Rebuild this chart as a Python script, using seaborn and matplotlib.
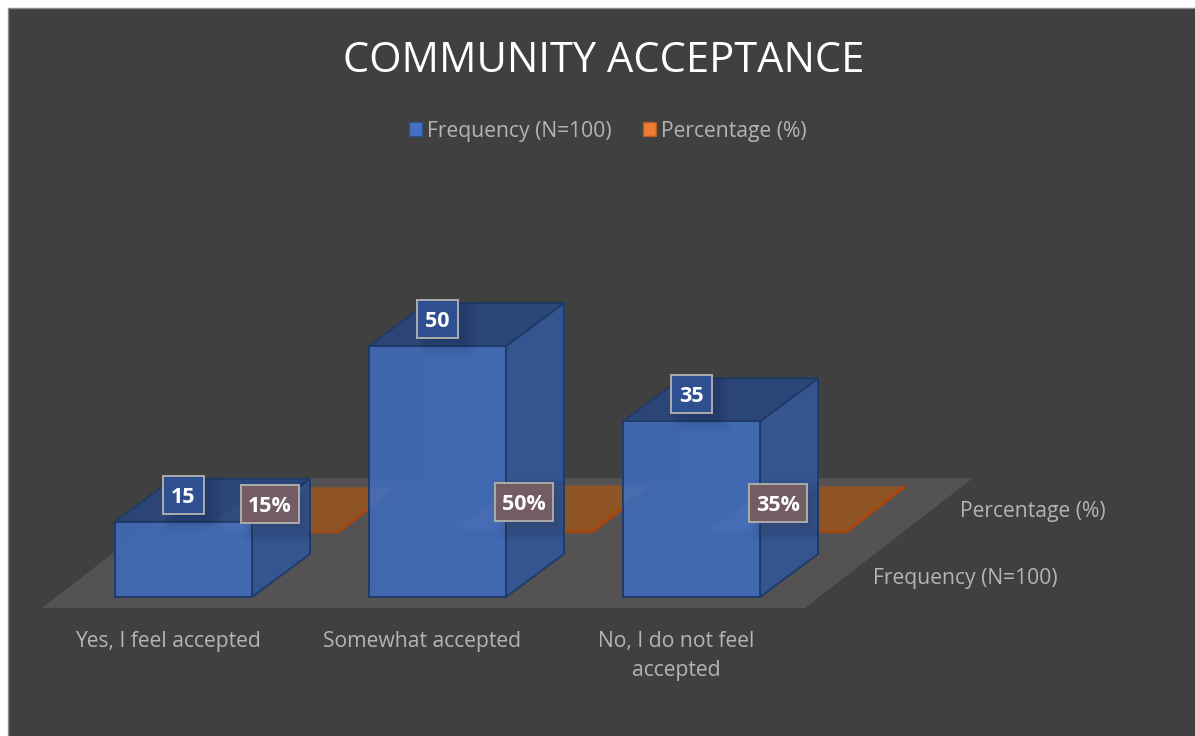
import matplotlib
matplotlib.use("Agg")
import matplotlib.pyplot as plt
import seaborn as sns
import pandas as pd
from matplotlib.patches import Polygon, Patch, Rectangle
from matplotlib.path import Path

categories = ["Yes, I feel accepted", "Somewhat accepted", "No, I do not feel\naccepted"]
frequency = [15, 50, 35]
percentage = [0.15, 0.50, 0.35]
series_names = ["Frequency (N=100)", "Percentage (%)"]
title = "COMMUNITY ACCEPTANCE"

W, H = 1195, 736
BG = "#404040"; TXT = "#B4B4B4"
sns.set_theme(style="white")
plt.rcParams["font.family"] = ["Open Sans", "DejaVu Sans"]

df = pd.DataFrame({"category": categories, "frequency": frequency, "percentage": percentage})
fig = plt.figure(figsize=(W/100, H/100), dpi=100, facecolor="white")
fig.add_artist(Rectangle((7.5/W, -0.01), (W-7.5+10)/W, 1.01-8/H, transform=fig.transFigure,
                         fc=BG, ec="#8c8c8c", lw=1, zorder=-5))
AX_BOTTOM = 618
ax = fig.add_axes([0, 1-AX_BOTTOM/H, 1, AX_BOTTOM/H])
ax.patch.set_alpha(0)
for s in ax.spines.values():
    s.set_visible(False)

PXX, PXY = 254.0, 5.02      # pixels per category / per unit
X0, Y0 = 183.5, 597.0       # pixel position of first bar centre / baseline
def dx(p): return p/PXX
def dy(p): return p/PXY
def pt(px, py): return ((px-X0)/PXX, (Y0-py)/PXY)

BAR_W = 137/254
sns.barplot(data=df, x="category", y="frequency", color="#4169B2", saturation=1, width=BAR_W,
            ax=ax, zorder=5, alpha=0.97, edgecolor="#203A66", linewidth=1.4)
sns.barplot(data=df, x="category", y="percentage", color="#9C4A14", saturation=1, width=BAR_W,
            ax=ax, zorder=2, edgecolor="#A5480F", linewidth=1)
ax.set_xlim((0-X0)/PXX, (W-X0)/PXX)
ax.set_ylim((Y0-AX_BOTTOM)/PXY, Y0/PXY)

# floor
ax.add_patch(Polygon([pt(42, 608), pt(805, 608), pt(973, 478), pt(210, 478)], closed=True,
                     fc="#545252", ec="none", zorder=1))

DX, DY = dx(58), dy(43)
blue = list(ax.containers[0]); orange = list(ax.containers[1])

# orange: second depth row, flat bars
SX, SY = dx(87), dy(65)
ghosts = []
for p in orange:
    p.set_x(p.get_x()+SX); p.set_y(p.get_y()+SY)
    x, y, w, h = p.get_x(), p.get_y(), p.get_width(), p.get_height()
    odx, ody = dx(57), dy(44)
    top = [(x, y+h), (x+w, y+h), (x+w+odx, y+h+ody), (x+odx, y+h+ody)]
    ax.add_patch(Polygon(top, closed=True, fc="#8F5426", ec="none", zorder=2))
    ax.add_patch(Polygon([(x+w, y), (x+w+odx, y+ody), (x+w+odx, y+h+ody), (x+w, y+h)], closed=True,
                         fc="#9C4A14", ec="#A5480F", lw=1.4, zorder=2))
    ghosts.append(top)

# blue: box faces derived from the bars
sil = []
for p in blue:
    x, y, w, h = p.get_x(), p.get_y(), p.get_width(), p.get_height()
    # hidden back edges seen through the translucent box
    ax.add_patch(Polygon([(x+DX, y+DY), (x+w+DX, y+DY), (x+w+DX, y+h+DY), (x+DX, y+h+DY)], closed=True,
                         fc="#4169B2", ec="#3A62A6", lw=0.8, zorder=3))
    ax.add_patch(Polygon([(x, y), (x+w, y), (x+w+DX, y+DY), (x+DX, y+DY)], closed=True,
                         fc="#4169B2", ec="#3A62A6", lw=0.8, zorder=3))
    ax.add_patch(Polygon([(x+w, y), (x+w+DX, y+DY), (x+w+DX, y+h+DY), (x+w, y+h)], closed=True,
                         fc="#34558E", ec="#203A66", lw=1.4, alpha=0.97, zorder=4))
    ax.add_patch(Polygon([(x, y+h), (x+w, y+h), (x+w+DX, y+h+DY), (x+DX, y+h+DY)], closed=True,
                         fc="#2B4678", ec="#203A66", lw=1.4, alpha=0.97, zorder=4))
    sil.append(Path([(x, y), (x+w, y), (x+w+DX, y+DY), (x+w+DX, y+h+DY), (x+DX, y+h+DY), (x, y+h), (x, y)], closed=True))
clip = Path.make_compound_path(*sil)

for top in ghosts:
    g = Polygon(top, closed=True, fc="white", ec="none", alpha=0.028, zorder=6)
    ax.add_patch(g)
    g.set_clip_path(clip, ax.transData)

# soft shadows and data labels
def label(xc, yc, text, w, fc):
    n = 12
    for i in range(n):
        grow = 15 - i*2.0
        sx = xc+dx(10)
        sy = yc-dy(7)
        s = Rectangle((sx-dx(w/2+grow-6), sy-dy(19+grow-3)), dx(w+2*grow-12), dy(38+2*grow-6), fc="black", ec="none",
                      alpha=0.014, zorder=7)
        ax.add_patch(s)
        s.set_clip_path(clip, ax.transData)
    ax.add_patch(Rectangle((xc-dx(w/2), yc-dy(19)), dx(w), dy(38), fc=fc, ec="#ACACAC", lw=1.4, zorder=8))
    ax.text(xc, yc, text, color="white", ha="center", va="center_baseline", fontsize=15.5, fontweight="bold", zorder=9)

for p, v in zip(blue, frequency):
    label(p.get_x()+p.get_width()/2, p.get_height()+dy(27), f"{v}", 41, "#2E5090")
for p, v in zip(orange, percentage):
    label(p.get_x()+p.get_width()/2-dx(0.8), p.get_y()+p.get_height()+dy(27.5), f"{v:.0%}", 58, "#735C62")

# axes text
ax.set_xlabel(""); ax.set_ylabel(""); ax.set_yticks([])
ax.set_xticks([i+dx(-15.5) for i in range(3)], categories, color=TXT, fontsize=15.2, linespacing=1.55, va="top")
ax.tick_params(axis="x", length=0, pad=9)
ax.text(*pt(960, 511.5), series_names[1], color=TXT, fontsize=15.2, va="center", ha="left")
ax.text(*pt(873, 578.5), series_names[0], color=TXT, fontsize=15.2, va="center", ha="left")

fig.text(604/W, 1-60.5/H, title, color="white", fontsize=30, ha="center", va="center")
handles = [Patch(fc="#4472C4", ec="#2F528F", label=series_names[0]), Patch(fc="#ED7D31", ec="#AE5A21", label=series_names[1])]
fig.legend(handles=handles, loc="center", bbox_to_anchor=(608/W, 1-131/H), ncol=2, frameon=False, fontsize=15.2,
           labelcolor=TXT, handlelength=0.6, handleheight=0.6, handletextpad=0.25, columnspacing=1.5)
fig.savefig("out.png", dpi=100, facecolor="white")
